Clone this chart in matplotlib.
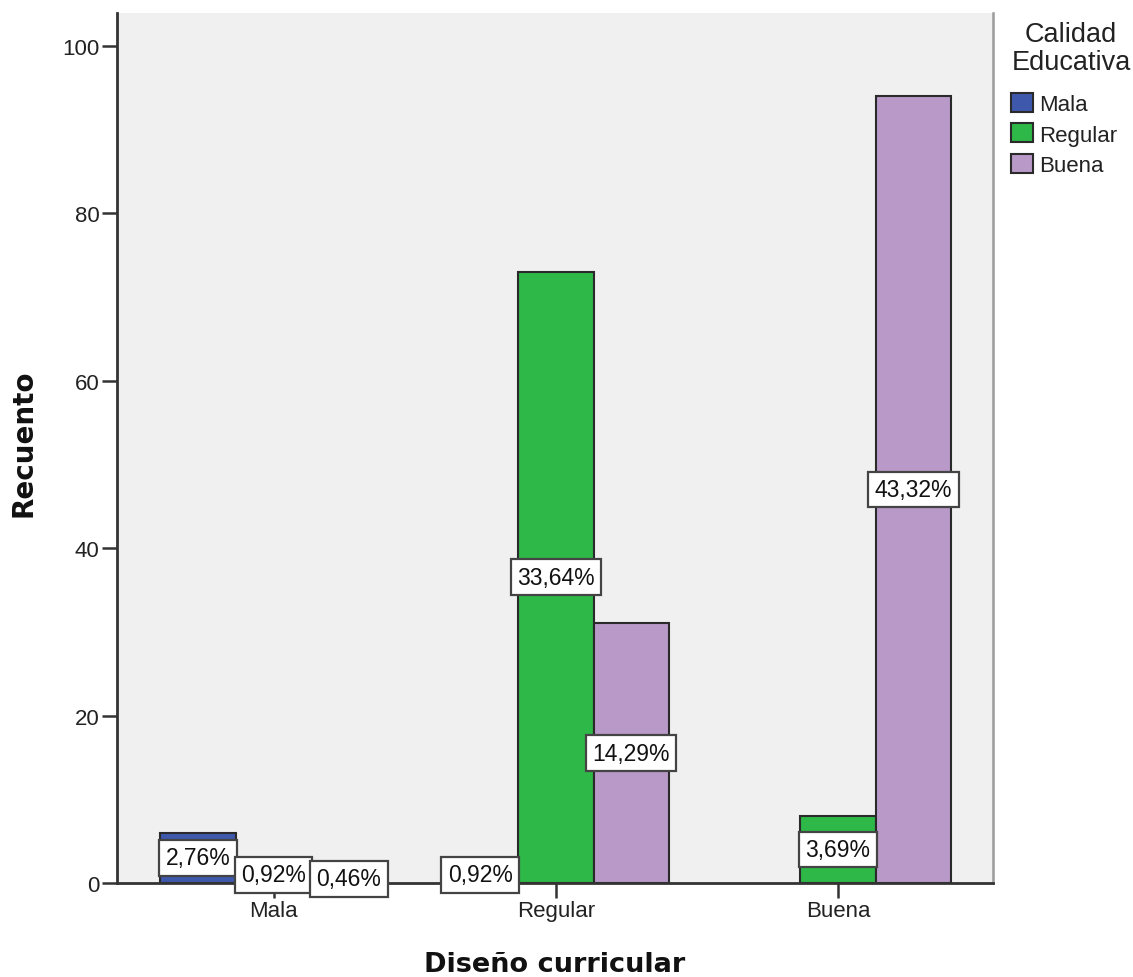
import matplotlib
matplotlib.use("Agg")
import matplotlib.pyplot as plt
import numpy as np
from matplotlib.patches import Patch

# ---- data ----
groups = ["Mala", "Regular", "Buena"]            # Diseño curricular
series = ["Mala", "Regular", "Buena"]            # Calidad Educativa
counts_mala = [6, 2, 0]
counts_regular = [2, 73, 8]
counts_buena = [1, 31, 94]
total = 217
yticks = [0, 20, 40, 60, 80, 100]

colors = ["#3E58AC", "#2EB848", "#B899C8"]
edge = "#2a2a2a"

counts = [counts_mala, counts_regular, counts_buena]

plt.rcParams['font.family'] = ['Liberation Sans', 'DejaVu Sans']

fig = plt.figure(figsize=(11.33, 9.78), dpi=100)
ax = fig.add_axes([117/1133, 1-884/978, (993-117)/1133, (884-14)/978])
ax.set_facecolor("#F0F0F0")

width = 0.2675
n = len(series)
for si in range(n):
    for gi in range(len(groups)):
        v = counts[si][gi]
        if v <= 0:
            continue
        x = gi + (si - (n - 1) / 2) * width
        ax.bar(x, v, width=width, color=colors[si], edgecolor=edge,
               linewidth=1.5, zorder=2)
        pct = v / total * 100
        lab = f"{pct:.2f}%".replace(".", ",")
        ax.text(x, v / 2, lab, ha="center", va="center", fontsize=16.5,
                color="#111111", zorder=5, clip_on=False,
                bbox=dict(boxstyle="square,pad=0.28", facecolor="white",
                          edgecolor="#444444", linewidth=1.6))

ax.set_xlim(-0.5545, 2.549)
ax.set_ylim(0, 103.9)
ax.set_xticks(range(len(groups)))
ax.set_xticklabels(groups, fontsize=16, color="#222222")
ax.set_yticks(yticks)
ax.set_yticklabels([str(t) for t in yticks], fontsize=16, color="#222222")
ax.tick_params(axis="both", direction="out", length=10.5, width=1.8, color="#333333", pad=2)

ax.spines["top"].set_visible(False)
ax.spines["right"].set_color("#9a9a9a")
ax.spines["right"].set_linewidth(1.8)
for s in ["left", "bottom"]:
    ax.spines[s].set_color("#333333")
    ax.spines[s].set_linewidth(2)

ax.set_xlabel("Diseño curricular", fontsize=19.5, fontweight="bold",
              family=['DejaVu Sans'], color="#111111")
ax.xaxis.set_label_coords(0.5, -(952 - 884) / 870)
ax.set_ylabel("Recuento", fontsize=20, fontweight="bold",
              family=['DejaVu Sans'], color="#111111")
ax.yaxis.set_label_coords((38 - 117) / 876, (884 - 443) / 870)

handles = [Patch(facecolor=c, edgecolor=edge, linewidth=1.5) for c in colors]
leg = fig.legend(handles, series, loc="upper left",
                 bbox_to_anchor=(1007/1133, 1 - 18/978), frameon=False,
                 title="Calidad\nEducativa", title_fontsize=19.5, fontsize=16,
                 handlelength=0.95, handleheight=0.95, handletextpad=0.3,
                 labelspacing=0.36, borderpad=0.2, borderaxespad=0)
leg.get_title().set_multialignment("center")
leg.get_title().set_color("#222222")
leg.get_title().set_linespacing(1.08)
for t in leg.get_texts():
    t.set_color("#222222")
leg._legend_box.sep = 13
leg._legend_box.align = "left"

fig.savefig("out.png", dpi=100)
